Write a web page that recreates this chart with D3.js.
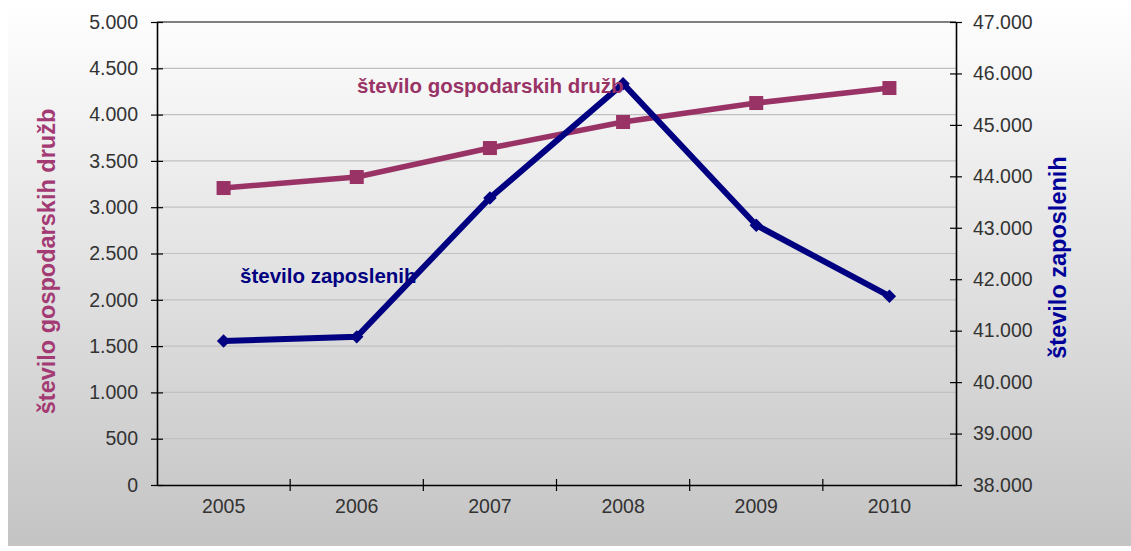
<!DOCTYPE html>
<html>
<head>
<meta charset="utf-8">
<script src="https://cdn.jsdelivr.net/npm/d3@7"></script>
<style>
  body { margin: 0; background: #fff; }
  svg { display: block; font-family: "Liberation Sans", Arial, sans-serif; }
</style>
</head>
<body>
<script>
// Data.
const years = ["2005", "2006", "2007", "2008", "2009", "2010"];
const druzbe = [3207, 3326, 3639, 3920, 4125, 4287];
const zaposleni = [40800, 40880, 43580, 45800, 43050, 41670];
const leftTicks = d3.range(0, 5001, 500);
const rightTicks = d3.range(38000, 47001, 1000);

const width = 1131;
const height = 551;
const margin = { top: 22, right: 175, bottom: 66, left: 157 };

const fmt = (v) => d3.format(",")(v).replace(/,/g, ".");

const colors = {
  druzbe: "#993366",
  zaposleni: "#000080",
};

const svg = d3
  .select("body")
  .append("svg")
  .attr("width", width)
  .attr("height", height);

// Background gradient, white at top to gray at the bottom.
const defs = svg.append("defs");
const grad = defs
  .append("linearGradient")
  .attr("id", "bg")
  .attr("x1", 0)
  .attr("y1", 0)
  .attr("x2", 0)
  .attr("y2", 1);
grad.append("stop").attr("offset", "0%").attr("stop-color", "#ffffff");
grad.append("stop").attr("offset", "100%").attr("stop-color", "#c4c4c4");

svg
  .append("rect")
  .attr("x", 8)
  .attr("y", 0)
  .attr("width", width - 8)
  .attr("height", height - 5)
  .attr("fill", "url(#bg)");

const x = d3
  .scaleBand()
  .domain(years)
  .range([margin.left, width - margin.right]);

const yL = d3
  .scaleLinear()
  .domain([0, 5000])
  .range([height - margin.bottom, margin.top]);

const yR = d3
  .scaleLinear()
  .domain([38000, 47000])
  .range([height - margin.bottom, margin.top]);

// Grid lines.
svg
  .append("g")
  .selectAll("line")
  .data(leftTicks.slice(1))
  .join("line")
  .attr("x1", margin.left)
  .attr("x2", width - margin.right)
  .attr("y1", (d) => yL(d))
  .attr("y2", (d) => yL(d))
  .attr("stroke", (d) => (d === 5000 ? "#808080" : "#c0c0c0"))
  .attr("stroke-width", (d) => (d === 5000 ? 2 : 1.2));

// Axes.
const styleAxis = (g) => {
  g.select(".domain").attr("stroke", "#000").attr("stroke-width", 1.6);
  g.selectAll(".tick line").attr("stroke", "#000").attr("stroke-width", 1.2);
  g.selectAll(".tick text")
    .attr("fill", "#333")
    .attr("font-size", 19.5)
    .attr("font-family", "Liberation Sans, Arial, sans-serif");
};

svg
  .append("g")
  .attr("transform", `translate(${margin.left},0)`)
  .call(
    d3.axisLeft(yL).tickValues(leftTicks).tickFormat(fmt).tickSizeOuter(0).tickSizeInner(6).tickPadding(13)
  )
  .call(styleAxis)
  .call((g) => g.selectAll(".tick line").attr("x2", -6).attr("x1", 6));

svg
  .append("g")
  .attr("transform", `translate(${width - margin.right},0)`)
  .call(
    d3.axisRight(yR).tickValues(rightTicks).tickFormat(fmt).tickSizeOuter(0).tickSizeInner(6).tickPadding(11)
  )
  .call(styleAxis)
  .call((g) => g.selectAll(".tick line").attr("x1", -6).attr("x2", 6));

const xAxis = svg
  .append("g")
  .attr("transform", `translate(0,${height - margin.bottom})`)
  .call(d3.axisBottom(x).tickSize(0).tickPadding(14))
  .call(styleAxis);

// Category boundary ticks.
xAxis
  .append("g")
  .selectAll("line")
  .data(years.slice(1))
  .join("line")
  .attr("x1", (d) => x(d))
  .attr("x2", (d) => x(d))
  .attr("y1", -6)
  .attr("y2", 6)
  .attr("stroke", "#000")
  .attr("stroke-width", 1.2);

// Lines.
const lineL = d3
  .line()
  .x((d, i) => x(years[i]) + x.bandwidth() / 2)
  .y((d) => yL(d));

const lineR = d3
  .line()
  .x((d, i) => x(years[i]) + x.bandwidth() / 2)
  .y((d) => yR(d));

svg
  .append("path")
  .datum(druzbe)
  .attr("d", lineL)
  .attr("fill", "none")
  .attr("stroke", colors.druzbe)
  .attr("stroke-width", 5.5);

svg
  .append("g")
  .selectAll("rect")
  .data(druzbe)
  .join("rect")
  .attr("x", (d, i) => x(years[i]) + x.bandwidth() / 2 - 7)
  .attr("y", (d) => yL(d) - 7)
  .attr("width", 14)
  .attr("height", 14)
  .attr("fill", colors.druzbe);

svg
  .append("path")
  .datum(zaposleni)
  .attr("d", lineR)
  .attr("fill", "none")
  .attr("stroke", colors.zaposleni)
  .attr("stroke-width", 6);

svg
  .append("g")
  .selectAll("path")
  .data(zaposleni)
  .join("path")
  .attr("d", d3.symbol(d3.symbolSquare, 90))
  .attr(
    "transform",
    (d, i) => `translate(${x(years[i]) + x.bandwidth() / 2},${yR(d)}) rotate(45)`
  )
  .attr("fill", colors.zaposleni);

// Series labels inside the plot.
svg
  .append("text")
  .attr("x", 357)
  .attr("y", 93)
  .attr("fill", colors.druzbe)
  .attr("font-size", 20.5)
  .attr("font-weight", "bold")
  .text("število gospodarskih družb");

svg
  .append("text")
  .attr("x", 240)
  .attr("y", 283)
  .attr("fill", colors.zaposleni)
  .attr("font-size", 20.5)
  .attr("font-weight", "bold")
  .text("število zaposlenih");

// Axis titles.
svg
  .append("text")
  .attr("transform", `translate(55,${(108 + 415) / 2}) rotate(-90)`)
  .attr("text-anchor", "middle")
  .attr("fill", "#a33a73")
  .attr("font-size", 23.5)
  .attr("font-weight", "bold")
  .text("število gospodarskih družb");

svg
  .append("text")
  .attr("transform", `translate(1066,${(155 + 360) / 2}) rotate(-90)`)
  .attr("text-anchor", "middle")
  .attr("fill", "#000099")
  .attr("font-size", 23.5)
  .attr("font-weight", "bold")
  .text("število zaposlenih");
</script>
</body>
</html>
